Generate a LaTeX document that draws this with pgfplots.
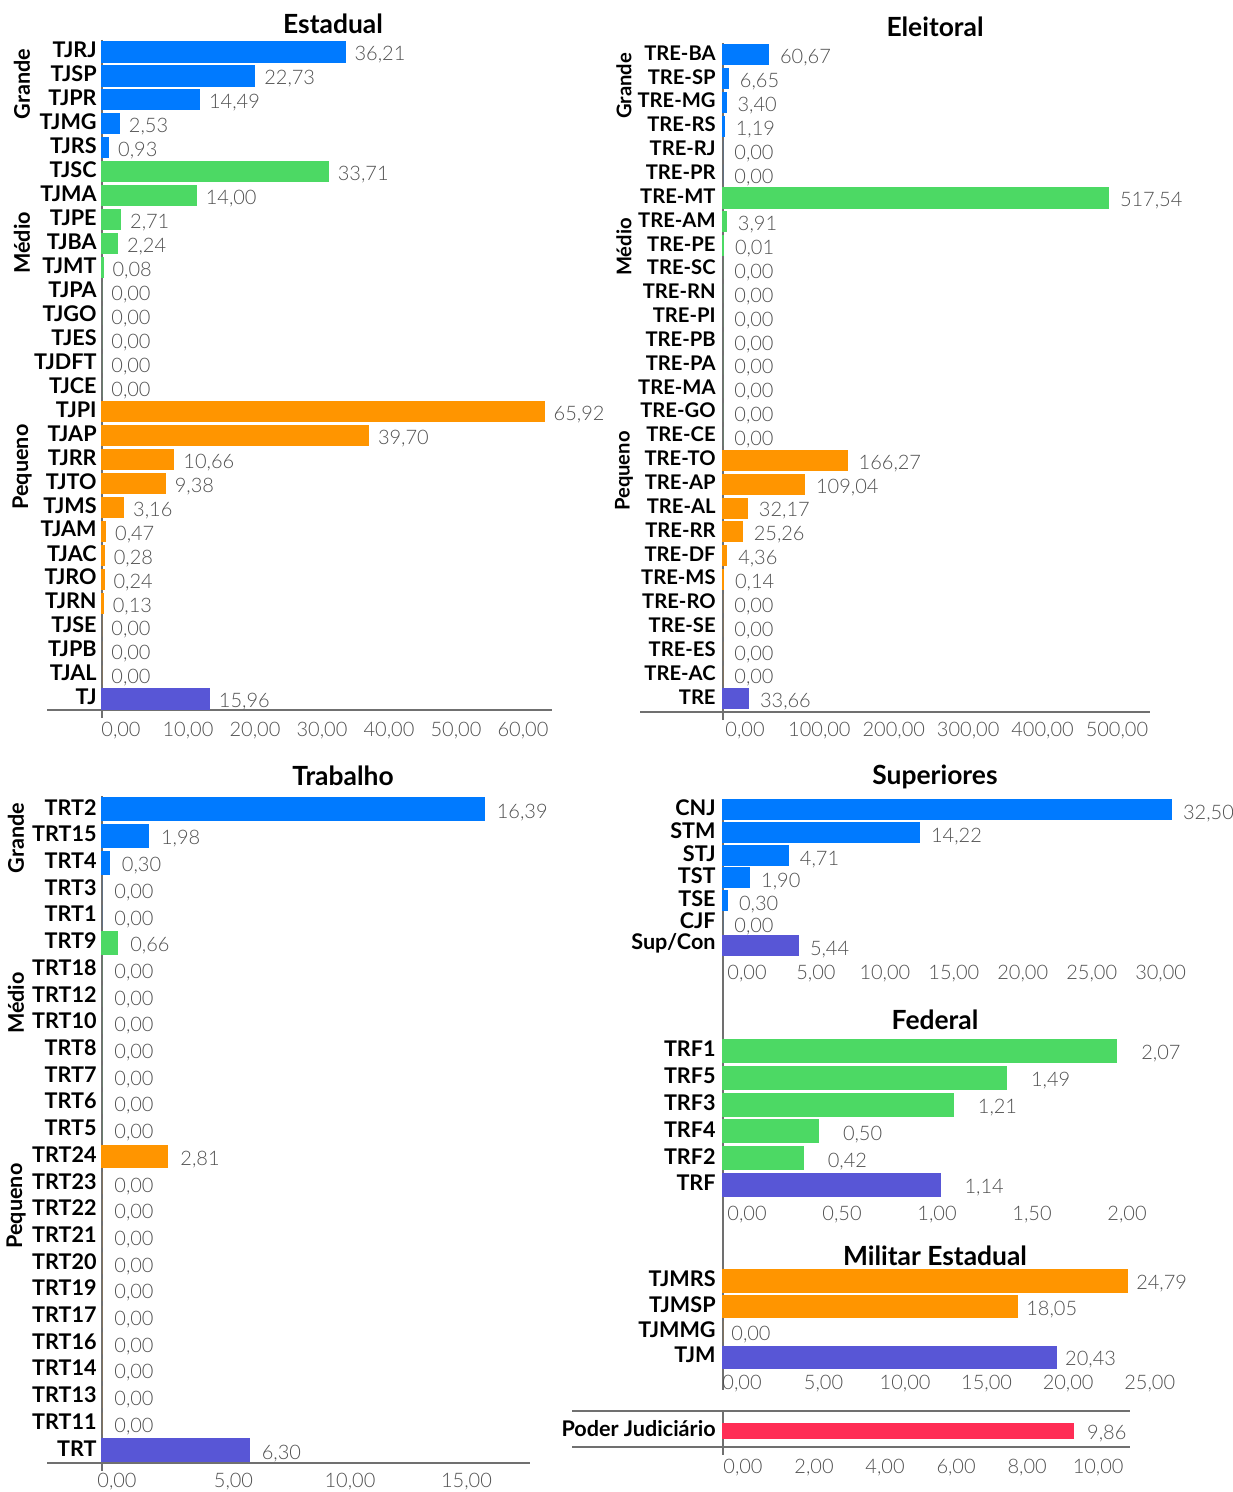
\documentclass[border=0pt]{standalone}
\usepackage{pgfplots}
\pgfplotsset{compat=1.18}
\usepackage{fontspec}
\setmainfont{Lato}
\newfontfamily\lightfont{Lato Light}
\definecolor{cblue}{HTML}{007AFF}
\definecolor{cgreen}{HTML}{4CD964}
\definecolor{corange}{HTML}{FF9500}
\definecolor{cpurple}{HTML}{5856D6}
\definecolor{cred}{HTML}{FF2D55}
\definecolor{vgray}{HTML}{505050}
\definecolor{lgray}{HTML}{707070}
\newcommand{\lblfont}{\bfseries\fontsize{10.8}{12}\selectfont}
\newcommand{\lblfontsm}{\bfseries\fontsize{10.1}{12}\selectfont}
\newcommand{\valfont}{\lightfont\fontsize{10}{12}\selectfont}
\newcommand{\ttlfont}{\bfseries\fontsize{13.2}{15}\selectfont}
\pgfkeys{/pgf/number format/assume math mode=true}
\pgfplotsset{
  hb/.style={
    xbar, scale only axis, y dir=reverse, clip=false,
    axis line style={draw=none},
    major tick length=0pt,
    bar shift=0pt,
    yticklabel style={font=\lblfont, text=black, anchor=east, inner sep=0pt, yshift=1pt},
    xticklabel style={font=\valfont, text=vgray, anchor=north, inner sep=0pt},
    xticklabel={\pgfmathprintnumber[fixed,fixed zerofill,precision=2,use comma]{\tick}},
    scaled x ticks=false,
    point meta=x,
    nodes near coords={\pgfmathprintnumber[fixed,fixed zerofill,precision=2,use comma]{\pgfplotspointmeta}},
    nodes near coords style={font=\valfont, text=vgray, anchor=west, inner sep=0pt, yshift=-1.5pt},
    every axis plot/.append style={draw=none},
    anchor=north west,
    xmin=0,
  },
  nz/.style={fill=#1, draw=#1, line width=1pt},
  zr/.style={fill=#1, draw=none},
}
\begin{document}
\begin{tikzpicture}
\useasboundingbox (0,0) rectangle (616pt,-746pt);

\begin{scope}[x=0.5pt,y=-0.5pt]
\draw[lgray, line width=0.75pt] (102,40)--(102,718);
\draw[lgray, line width=0.75pt] (47,710)--(552,710);
\draw[lgray, line width=0.75pt] (723,43)--(723,720);
\draw[lgray, line width=0.75pt] (640,712)--(1150,712);
\draw[lgray, line width=0.75pt] (102,796)--(102,1471);
\draw[lgray, line width=0.75pt] (47,1463)--(530,1463);
\draw[lgray, line width=0.75pt] (723,800)--(723,1390);
\draw[lgray, line width=0.75pt] (572,1411)--(1130,1411);
\draw[lgray, line width=0.75pt] (572,1447)--(1130,1447);
\draw[lgray, line width=0.75pt] (723,1411)--(723,1455);
\end{scope}

% ---------------- Estadual ----------------
\begin{axis}[hb, at={(51pt,-20pt)}, width=225pt, height=335pt,
  xmax=67.16, ymin=-0.5, ymax=27.46, bar width=0.8,
  xtick={0,10,...,60},
  xticklabel style={xshift=9.5pt, yshift=-5.75pt},
  yticklabel style={xshift=-2.5pt},
  nodes near coords style={xshift=4.5pt},
  ytick={0,1,...,27},
  yticklabels={TJRJ,TJSP,TJPR,TJMG,TJRS,TJSC,TJMA,TJPE,TJBA,TJMT,TJPA,TJGO,TJES,TJDFT,TJCE,TJPI,TJAP,TJRR,TJTO,TJMS,TJAM,TJAC,TJRO,TJRN,TJSE,TJPB,TJAL,TJ}]
\addplot[nz=cblue] coordinates {(36.21,0) (22.73,1) (14.49,2) (2.53,3) (0.93,4)};
\addplot[nz=cgreen] coordinates {(33.71,5) (14.00,6) (2.71,7) (2.24,8) (0.08,9)};
\addplot[zr=cgreen] coordinates {(0,10) (0,11) (0,12) (0,13) (0,14)};
\addplot[nz=corange] coordinates {(65.92,15) (39.70,16) (10.66,17) (9.38,18) (3.16,19) (0.47,20) (0.28,21) (0.24,22) (0.13,23)};
\addplot[zr=corange] coordinates {(0,24) (0,25) (0,26)};
\addplot[nz=cpurple] coordinates {(15.96,27)};
\end{axis}

% ---------------- Eleitoral ----------------
\begin{axis}[hb, at={(361.5pt,-21.5pt)}, width=213.5pt, height=334.5pt,
  xmax=574, ymin=-0.5, ymax=27.55, bar width=0.8,
  xtick={0,100,...,500},
  xticklabel style={xshift=11pt, yshift=-4.75pt},
  yticklabel style={xshift=-3.5pt, font=\lblfontsm},
  nodes near coords style={xshift=5.5pt},
  ytick={0,1,...,27},
  yticklabels={TRE-BA,TRE-SP,TRE-MG,TRE-RS,TRE-RJ,TRE-PR,TRE-MT,TRE-AM,TRE-PE,TRE-SC,TRE-RN,TRE-PI,TRE-PB,TRE-PA,TRE-MA,TRE-GO,TRE-CE,TRE-TO,TRE-AP,TRE-AL,TRE-RR,TRE-DF,TRE-MS,TRE-RO,TRE-SE,TRE-ES,TRE-AC,TRE}]
\addplot[nz=cblue] coordinates {(60.67,0) (6.65,1) (3.40,2) (1.19,3)};
\addplot[zr=cblue] coordinates {(0,4) (0,5)};
\addplot[nz=cgreen] coordinates {(517.54,6) (3.91,7) (0.01,8)};
\addplot[zr=cgreen] coordinates {(0,9) (0,10) (0,11) (0,12) (0,13) (0,14) (0,15) (0,16)};
\addplot[nz=corange] coordinates {(166.27,17) (109.04,18) (32.17,19) (25.26,20) (4.36,21) (0.14,22)};
\addplot[zr=corange] coordinates {(0,23) (0,24) (0,25) (0,26)};
\addplot[nz=cpurple] coordinates {(33.66,27)};
\end{axis}

% ---------------- Trabalho ----------------
\begin{axis}[hb, at={(51pt,-398pt)}, width=214pt, height=333.5pt,
  xmax=18.37, ymin=-0.5, ymax=24.48, bar width=0.82,
  xtick={0,5,10,15},
  xticklabel style={xshift=7.5pt, yshift=-4.75pt},
  yticklabel style={xshift=-2.5pt},
  nodes near coords style={xshift=6pt},
  ytick={0,1,...,24},
  yticklabels={TRT2,TRT15,TRT4,TRT3,TRT1,TRT9,TRT18,TRT12,TRT10,TRT8,TRT7,TRT6,TRT5,TRT24,TRT23,TRT22,TRT21,TRT20,TRT19,TRT17,TRT16,TRT14,TRT13,TRT11,TRT}]
\addplot[nz=cblue] coordinates {(16.39,0) (1.98,1) (0.30,2)};
\addplot[zr=cblue] coordinates {(0,3) (0,4)};
\addplot[nz=cgreen] coordinates {(0.66,5)};
\addplot[zr=cgreen] coordinates {(0,6) (0,7) (0,8) (0,9) (0,10) (0,11) (0,12)};
\addplot[nz=corange] coordinates {(2.81,13)};
\addplot[zr=corange] coordinates {(0,14) (0,15) (0,16) (0,17) (0,18) (0,19) (0,20) (0,21) (0,22) (0,23)};
\addplot[nz=cpurple] coordinates {(6.30,24)};
\end{axis}

% ---------------- Superiores ----------------
\begin{axis}[hb, at={(361.5pt,-400pt)}, width=227.5pt, height=78.5pt,
  xmax=33, ymin=-0.44, ymax=6.5, bar width=0.84,
  xtick={0,5,...,30},
  xticklabel style={xshift=12pt, yshift=-3.75pt},
  yticklabel style={xshift=-3.5pt},
  nodes near coords style={xshift=5.5pt, yshift=-0.5pt},
  ytick={0,1,...,6},
  yticklabels={CNJ,STM,STJ,TST,TSE,CJF,Sup/Con}]
\addplot[nz=cblue] coordinates {(32.50,0) (14.22,1) (4.71,2) (1.90,3) (0.30,4)};
\addplot[zr=cblue] coordinates {(0,5)};
\addplot[nz=cpurple] coordinates {(5.44,6)};
\end{axis}

% ---------------- Federal ----------------
\begin{axis}[hb, at={(361.5pt,-518.8pt)}, width=209pt, height=80.4pt,
  xmax=2.2, ymin=-0.5, ymax=5.5, bar width=0.82,
  xtick={0,0.5,1,1.5,2},
  xticklabel style={xshift=12pt, yshift=-3.5pt},
  yticklabel style={xshift=-3.5pt},
  nodes near coords style={xshift=12pt},
  ytick={0,1,...,5},
  yticklabels={TRF1,TRF5,TRF3,TRF4,TRF2,TRF}]
\addplot[nz=cgreen] coordinates {(2.07,0) (1.49,1) (1.21,2) (0.50,3) (0.42,4)};
\addplot[nz=cpurple] coordinates {(1.14,5)};
\end{axis}

% ---------------- Militar Estadual ----------------
\begin{axis}[hb, at={(361.5pt,-634.15pt)}, width=212pt, height=50.7pt,
  xmax=26, ymin=-0.5, ymax=3.5, bar width=0.83,
  xtick={0,5,...,25},
  xticklabel style={xshift=9.5pt, yshift=-2.5pt},
  yticklabel style={xshift=-3.5pt},
  nodes near coords style={xshift=4pt},
  ytick={0,1,2,3},
  yticklabels={TJMRS,TJMSP,TJMMG,TJM}]
\addplot[nz=corange] coordinates {(24.79,0) (18.05,1)};
\addplot[zr=corange] coordinates {(0,2)};
\addplot[nz=cpurple] coordinates {(20.43,3)};
\end{axis}

% ---------------- Poder Judiciario ----------------
\begin{axis}[hb, at={(361.5pt,-705.5pt)}, width=203.5pt, height=18pt,
  xmax=11.46, ymin=-0.55, ymax=0.45, bar width=0.39,
  xtick={0,2,...,10},
  xticklabel style={xshift=10pt, yshift=-5.75pt},
  yticklabel style={xshift=-3.5pt},
  nodes near coords style={xshift=6.5pt},
  ytick={0},
  yticklabels={Poder Judiciário}]
\addplot[nz=cred] coordinates {(9.86,0)};
\end{axis}

\begin{scope}[x=0.5pt,y=-0.5pt]
\node[font=\ttlfont] at (333,24) {Estadual};
\node[font=\ttlfont] at (935,27) {Eleitoral};
\node[font=\ttlfont] at (343,776) {Trabalho};
\node[font=\ttlfont] at (935,777) {Superiores};
\node[font=\ttlfont] at (935,1020) {Federal};
\node[font=\ttlfont] at (935,1256) {Militar Estadual};

\node[font=\lblfont, rotate=90] at (22,84) {Grande};
\node[font=\lblfont, rotate=90] at (22,243) {Médio};
\node[font=\lblfont, rotate=90] at (22,467) {Pequeno};
\node[font=\lblfontsm, rotate=90] at (624,86) {Grande};
\node[font=\lblfontsm, rotate=90] at (624,247) {Médio};
\node[font=\lblfontsm, rotate=90] at (624,471) {Pequeno};
\node[font=\lblfont, rotate=90] at (16,838) {Grande};
\node[font=\lblfont, rotate=90] at (16,1003) {Médio};
\node[font=\lblfont, rotate=90] at (16,1206) {Pequeno};
\end{scope}
\end{tikzpicture}
\end{document}
